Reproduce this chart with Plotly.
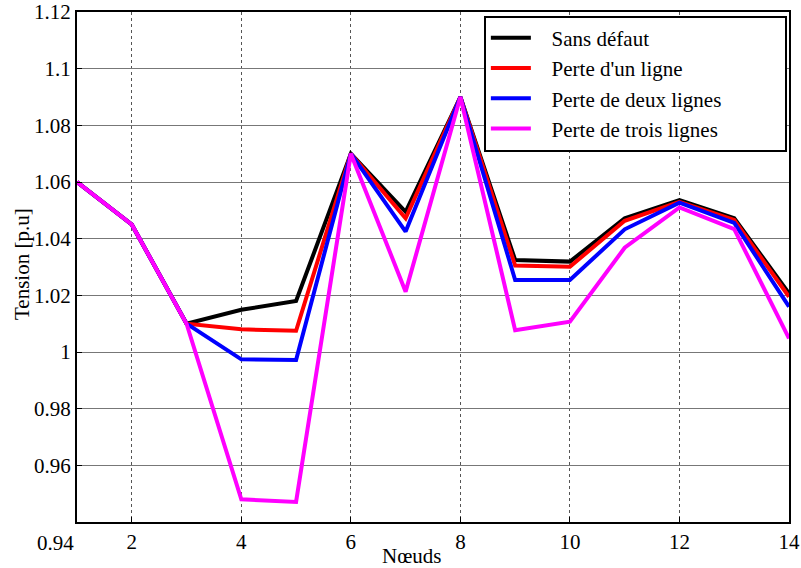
import plotly.graph_objects as go

noeuds = list(range(1, 15))
sans_defaut = [1.060, 1.045, 1.010, 1.0149, 1.018, 1.070, 1.0495, 1.090, 1.0325, 1.0319, 1.0472, 1.0536, 1.0472, 1.0207]
perte_un = [1.060, 1.045, 1.010, 1.008, 1.0075, 1.070, 1.0472, 1.090, 1.0305, 1.0301, 1.0463, 1.0530, 1.0466, 1.0195]
perte_deux = [1.060, 1.045, 1.010, 0.9974, 0.9972, 1.070, 1.0425, 1.090, 1.0254, 1.0254, 1.0433, 1.0527, 1.0456, 1.0160]
perte_trois = [1.060, 1.045, 1.010, 0.948, 0.9471, 1.070, 1.0213, 1.090, 1.0077, 1.0107, 1.0368, 1.0510, 1.0434, 1.0048]

series_names = ["Sans défaut", "Perte d'un ligne", "Perte de deux lignes", "Perte de trois lignes"]
series_values = [sans_defaut, perte_un, perte_deux, perte_trois]
series_colors = ["#000000", "#ff0000", "#0000ff", "#ff00ff"]

x_ticks = [2, 4, 6, 8, 10, 12, 14]
y_ticks = [0.94, 0.96, 0.98, 1.0, 1.02, 1.04, 1.06, 1.08, 1.1, 1.12]
y_labels = ["", "0.96", "0.98", "1", "1.02", "1.04", "1.06", "1.08", "1.1", "1.12"]

FONT = "Liberation Serif"
NB = "\u00a0"

fig = go.Figure()
for name, vals, col in zip(series_names, series_values, series_colors):
    fig.add_trace(go.Scatter(x=noeuds, y=vals, mode="lines",
                             name=NB * 3 + name + NB * 11,
                             line=dict(color=col, width=4)))

fig.update_layout(
    width=801, height=568,
    margin=dict(l=77, r=12, t=12, b=46),
    paper_bgcolor="white", plot_bgcolor="white",
    font=dict(family=FONT, size=21, color="black"),
    showlegend=True,
    legend=dict(x=0.997, y=0.993, xanchor="right", yanchor="top",
                bgcolor="white", bordercolor="black", borderwidth=2,
                font=dict(family=FONT, size=21, color="black"),
                itemwidth=40),
)
fig.update_xaxes(range=[1, 14], tickvals=x_ticks, ticks="inside", ticklen=5,
                 tickcolor="black", showline=True, linecolor="black", linewidth=2,
                 mirror=True, showgrid=True, gridcolor="#555555", griddash="dot",
                 gridwidth=1, zeroline=False, tickfont=dict(family=FONT, size=21),
                 automargin=False)
fig.update_yaxes(range=[0.94, 1.12], tickvals=y_ticks, ticktext=y_labels,
                 ticks="inside", ticklen=5, tickcolor="black",
                 showline=True, linecolor="black", linewidth=2, mirror=True,
                 showgrid=True, gridcolor="#777777", gridwidth=1, zeroline=False,
                 tickfont=dict(family=FONT, size=21), automargin=False)
fig.add_annotation(text="Tension [p.u]", xref="paper", yref="paper", x=0, y=0.5,
                   xanchor="center", yanchor="middle", xshift=-55, yshift=3,
                   textangle=-90, showarrow=False,
                   font=dict(family=FONT, size=21))
fig.add_annotation(text="0.94", xref="paper", yref="y", x=0, y=0.94,
                   xanchor="right", yanchor="middle", yshift=-21, xshift=-1,
                   showarrow=False, font=dict(family=FONT, size=21))
fig.add_annotation(text="Nœuds", xref="paper", yref="paper", x=0.47, y=0,
                   xanchor="center", yanchor="top", yshift=-20,
                   showarrow=False, font=dict(family=FONT, size=21))

fig.write_html("out.html")
